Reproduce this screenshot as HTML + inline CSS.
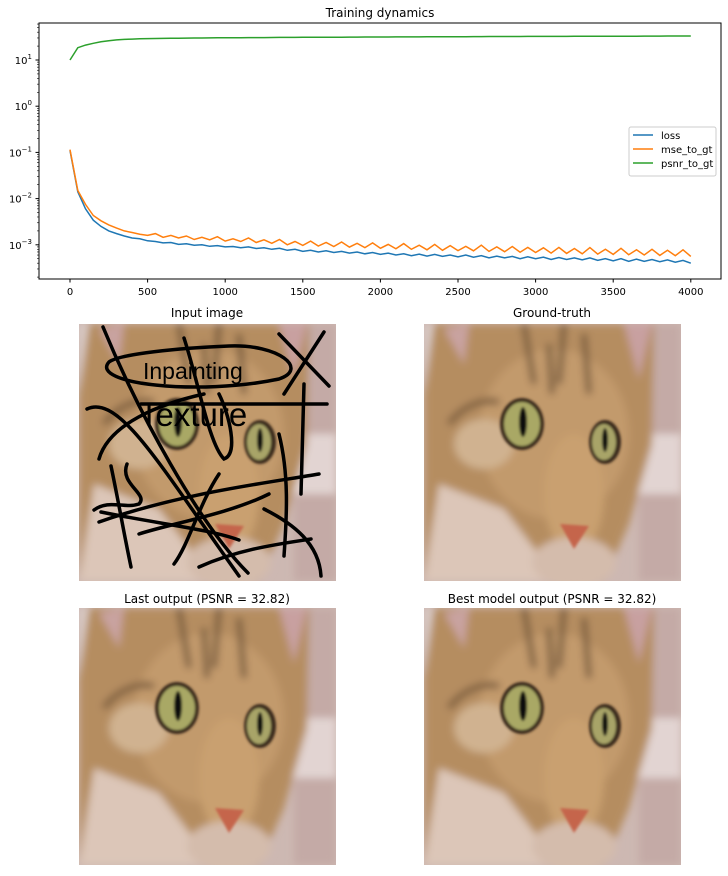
<!DOCTYPE html>
<html><head><meta charset="utf-8">
<style>
body{margin:0;background:#fff;width:728px;height:872px;overflow:hidden;font-family:"DejaVu Sans","Liberation Sans",sans-serif;}
svg text{font-family:"DejaVu Sans","Liberation Sans",sans-serif;fill:#000;}
</style></head>
<body>
<svg id="chart" width="728" height="872" xmlns="http://www.w3.org/2000/svg">
<defs>
<filter id="bl" x="-10%" y="-10%" width="120%" height="120%"><feGaussianBlur stdDeviation="4"/></filter>
<filter id="bl2"><feGaussianBlur stdDeviation="1.2"/></filter>
<clipPath id="cp"><rect x="0" y="0" width="257" height="257"/></clipPath>
<clipPath id="axclip"><rect x="39" y="23" width="682" height="256"/></clipPath>
<g id="cat" clip-path="url(#cp)">
  <rect x="0" y="0" width="257" height="257" fill="#cdb8b2"/>
  <g filter="url(#bl)">
    <rect x="0" y="0" width="40" height="257" fill="#d9cbc6"/>
    <rect x="215" y="0" width="42" height="257" fill="#c4aaa6"/>
    <rect x="210" y="110" width="47" height="60" fill="#e2d4d2"/>
    <path d="M10,0 L230,0 L228,120 L205,200 L180,257 L0,257 L0,70 Z" fill="#b58d60"/>
    <path d="M20,5 L45,0 L40,40 Z" fill="#c9a3a0"/>
    <path d="M200,0 L228,0 L215,55 Z" fill="#c8a0a0"/>
    <ellipse cx="130" cy="110" rx="75" ry="85" fill="#c29a6c"/>
    <ellipse cx="150" cy="170" rx="30" ry="60" fill="#c9a070"/>
    <ellipse cx="60" cy="120" rx="30" ry="25" fill="#d0b290"/>
    <path d="M15,160 L80,185 L135,257 L0,257 Z" fill="#dcc6b8"/>
    <ellipse cx="150" cy="238" rx="42" ry="25" fill="#d4bcac"/>
    <path d="M100,0 L110,60 M140,0 L135,60 M160,10 L165,70 M125,20 L128,70" stroke="#6a5035" stroke-width="5"/>
    <path d="M25,100 C40,80 60,75 75,78" stroke="#7a5c3c" stroke-width="6" fill="none"/>
  </g>
  <g filter="url(#bl2)">
    <ellipse cx="98" cy="100" rx="22" ry="26" fill="#3a2a1a"/>
    <ellipse cx="98" cy="100" rx="18" ry="22" fill="#a9a865"/>
    <ellipse cx="99" cy="98" rx="4" ry="15" fill="#111"/>
    <ellipse cx="181" cy="118" rx="16" ry="22" fill="#3a2a1a"/>
    <ellipse cx="180" cy="118" rx="12" ry="18" fill="#a8a468"/>
    <ellipse cx="181" cy="116" rx="3" ry="12" fill="#111"/>
    <path d="M136,200 L165,202 L150,225 Z" fill="#c5654c"/>
  </g>
</g>
</defs>

<text x="380" y="17" font-size="12" text-anchor="middle">Training dynamics</text>
<rect x="39" y="23" width="682" height="256" fill="none" stroke="#000" stroke-width="1"/>
<g id="xticks"></g>
<g id="yticks"></g>
<g id="series" clip-path="url(#axclip)"></g>

<g>
  <rect x="629" y="127" width="87" height="49" rx="2" fill="#fff" stroke="#ccc"/>
  <line x1="633" y1="135" x2="653" y2="135" stroke="#1f77b4" stroke-width="1.5"/>
  <text x="661" y="139" font-size="10">loss</text>
  <line x1="633" y1="149" x2="653" y2="149" stroke="#ff7f0e" stroke-width="1.5"/>
  <text x="661" y="153" font-size="10">mse_to_gt</text>
  <line x1="633" y1="163" x2="653" y2="163" stroke="#2ca02c" stroke-width="1.5"/>
  <text x="661" y="167" font-size="10">psnr_to_gt</text>
</g>

<text x="207" y="317" font-size="12" text-anchor="middle">Input image</text>
<g transform="translate(79,324)">
  <use href="#cat"/>
  <g fill="none" stroke="#000" stroke-width="3.5" stroke-linecap="round" clip-path="url(#cp)">
    <path d="M24,3 C60,90 120,200 169,249"/>
    <path d="M30,38 C10,60 120,72 200,55 C230,45 200,20 150,22 C100,24 40,30 30,38"/>
    <path d="M105,14 C120,60 130,120 145,135 C160,130 150,90 140,70"/>
    <path d="M200,10 L250,62 M245,8 L205,70"/>
    <path d="M62,80 L248,80"/>
    <path d="M8,85 C40,70 80,140 160,252"/>
    <path d="M20,135 C30,100 80,80 125,70"/>
    <path d="M20,198 C100,170 180,160 240,150"/>
    <path d="M22,188 C80,200 130,205 160,216"/>
    <path d="M225,60 L222,170"/>
    <path d="M200,110 C210,150 208,190 205,232"/>
    <path d="M185,185 C215,200 240,220 242,252"/>
    <path d="M120,243 C160,225 200,220 232,215"/>
    <path d="M48,140 C40,160 70,170 60,180 C45,185 30,175 15,186"/>
    <path d="M32,142 C40,180 45,210 52,243"/>
    <path d="M140,150 C120,180 110,220 95,240 M60,210 C90,200 150,190 190,170"/>
  </g>
  <text x="64" y="55" font-size="23" style="font-family:'Liberation Sans',sans-serif">Inpainting</text>
  <text x="60" y="102" font-size="33" style="font-family:'Liberation Sans',sans-serif">Texture</text>
</g>

<text x="552" y="317" font-size="12" text-anchor="middle">Ground-truth</text>
<g transform="translate(424,324)"><use href="#cat"/></g>

<text x="207" y="603" font-size="12" text-anchor="middle">Last output (PSNR = 32.82)</text>
<g transform="translate(79,608)"><use href="#cat"/></g>

<text x="552" y="603" font-size="12" text-anchor="middle">Best model output (PSNR = 32.82)</text>
<g transform="translate(424,608)"><use href="#cat"/></g>
</svg>

<script>
// values sampled every 50 iterations (0..4000)
const iterStep = 50;
const lossE3 = [110,14,6.0,3.4,2.5,2.0,1.75,1.55,1.4,1.35,1.22,1.18,1.1,1.12,1.02,1.05,0.98,1.0,0.93,0.96,0.9,0.92,0.86,0.9,0.83,0.86,0.8,0.84,0.76,0.8,0.72,0.76,0.7,0.74,0.68,0.72,0.66,0.7,0.64,0.68,0.62,0.66,0.6,0.64,0.58,0.63,0.57,0.62,0.56,0.6,0.55,0.6,0.54,0.58,0.52,0.57,0.52,0.56,0.5,0.55,0.5,0.54,0.48,0.53,0.48,0.52,0.47,0.52,0.46,0.5,0.45,0.5,0.44,0.49,0.44,0.48,0.43,0.47,0.42,0.46,0.4];
const mseE3 = [115,15,7.5,4.3,3.3,2.7,2.3,2.0,1.85,1.7,1.6,1.75,1.45,1.6,1.4,1.55,1.3,1.45,1.28,1.5,1.2,1.35,1.18,1.4,1.12,1.28,1.08,1.3,1.0,1.18,0.97,1.2,0.94,1.12,0.92,1.15,0.89,1.08,0.87,1.1,0.84,1.02,0.82,1.06,0.8,0.98,0.78,1.02,0.76,0.96,0.75,0.93,0.74,0.98,0.72,0.9,0.71,0.92,0.69,0.88,0.68,0.86,0.66,0.88,0.65,0.83,0.64,0.87,0.63,0.8,0.62,0.84,0.61,0.78,0.6,0.8,0.59,0.76,0.58,0.78,0.56];
const psnr = [10,18.5,21,23,24.8,26.2,27.2,27.9,28.4,28.7,29,29.2,29.4,29.5,29.7,29.8,29.9,30,30.1,30.2,30.3,30.3,30.4,30.5,30.6,30.6,30.7,30.8,30.8,30.9,31,31,31.1,31.1,31.2,31.2,31.3,31.3,31.4,31.4,31.5,31.5,31.6,31.6,31.7,31.7,31.8,31.8,31.9,31.9,32,32,32.1,32.1,32.2,32.2,32.3,32.3,32.3,32.4,32.4,32.4,32.5,32.5,32.5,32.6,32.6,32.6,32.7,32.7,32.7,32.8,32.8,32.8,32.9,32.9,32.9,33,33,33,33];
const xTicks = [0,500,1000,1500,2000,2500,3000,3500,4000];
const yTickExps = [-3,-2,-1,0,1];

const NS='http://www.w3.org/2000/svg';
function X(v){return 70 + v*(620.8/4000);}
function Y(v){return 60 - (Math.log10(v)-1)*46.2;}
function mk(tag,attrs,parent){const e=document.createElementNS(NS,tag);for(const k in attrs)e.setAttribute(k,attrs[k]);parent.appendChild(e);return e;}

const xg=document.getElementById('xticks');
xTicks.forEach(t=>{
  const l=mk('line',{x1:X(t),x2:X(t),y1:279,y2:282.5,stroke:'#000'},xg);
  
  
  const tx=mk('text',{x:X(t),y:295,'font-size':10,'text-anchor':'middle'},xg);
  tx.textContent=t;
  
  
});
const yg=document.getElementById('yticks');
yTickExps.forEach(e=>{
  const y=Y(Math.pow(10,e));
  const l=mk('line',{x1:35.5,x2:39,y1:y,y2:y,stroke:'#000'},yg);
  
  
  const tx=mk('text',{x:32,y:y+4,'font-size':10,'text-anchor':'end'},yg);
  tx.innerHTML='10<tspan dy="-5" font-size="7">'+(e<0?'\u2212'+(-e):e)+'</tspan>';
  
  
});
for(let e=-4;e<=1;e++){for(let m=2;m<=9;m++){const v=m*Math.pow(10,e);const y=Y(v);if(y<23||y>279)continue;
  const l=mk('line',{x1:37,x2:39,y1:y,y2:y,stroke:'#000','stroke-width':0.6},yg);
  
  }}

const sg=document.getElementById('series');
function line(arr,scale,color,name){
  const pts=arr.map((v,i)=>X(i*iterStep).toFixed(1)+','+Y(v*scale).toFixed(1)).join(' ');
  const p=mk('polyline',{points:pts,fill:'none',stroke:color,'stroke-width':1.5},sg);
  
  
}
line(psnr,1,'#2ca02c','psnr-line');
line(lossE3,1e-3,'#1f77b4','loss-line');
line(mseE3,1e-3,'#ff7f0e','mse-line');
</script>
</body></html>
